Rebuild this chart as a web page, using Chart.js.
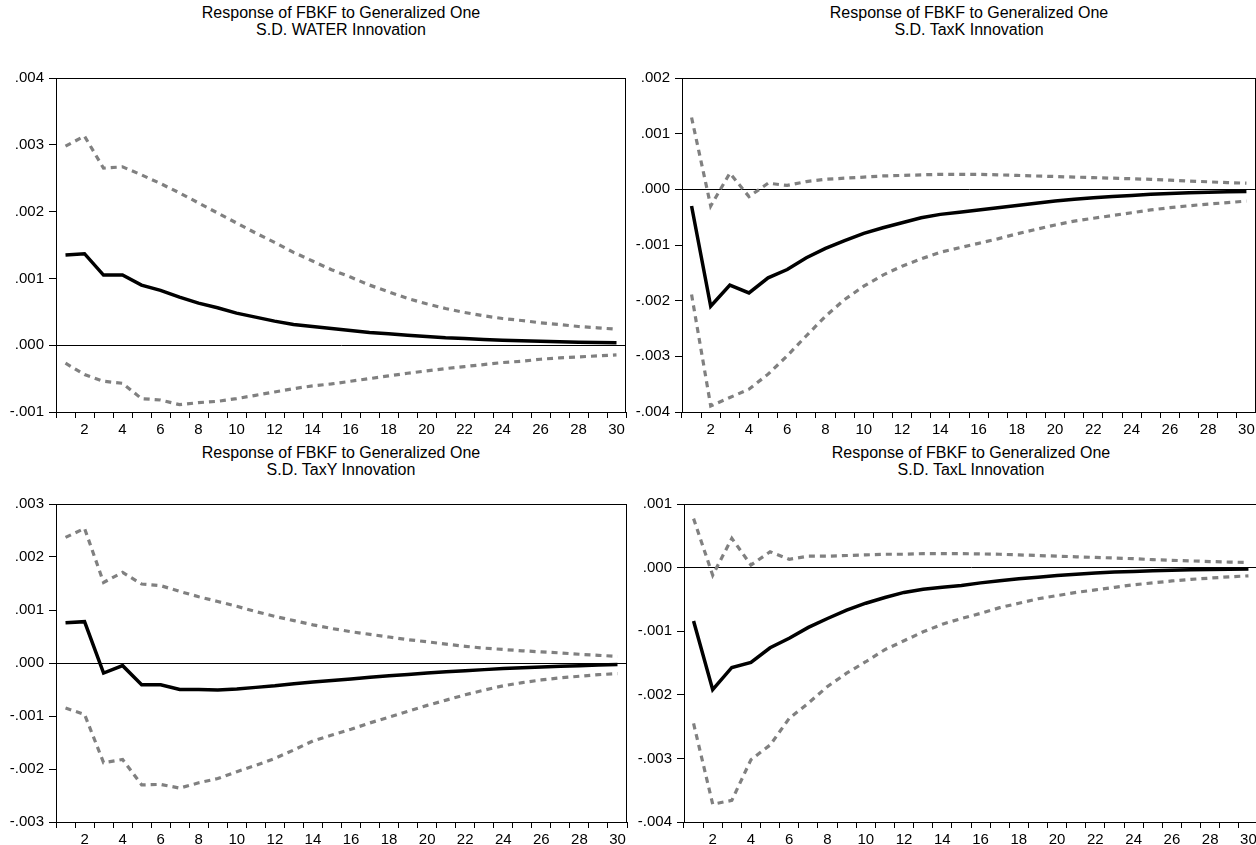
<!DOCTYPE html>
<html>
<head>
<meta charset="utf-8">
<script src="https://cdn.jsdelivr.net/npm/chart.js@4/dist/chart.umd.min.js"></script>
<style>
html,body{margin:0;padding:0;background:#fff;width:1256px;height:845px;overflow:hidden;position:relative;}
canvas{position:absolute;}
.ttl{position:absolute;width:500px;text-align:center;font-family:"Liberation Sans",Arial,sans-serif;font-size:16px;line-height:17px;color:#000;}
</style>
</head>
<body>
<div class="ttl" id="t1" style="left:91px;top:4px;">Response of FBKF to Generalized One<br>S.D. WATER Innovation</div>
<div class="ttl" id="t2" style="left:719px;top:4px;">Response of FBKF to Generalized One<br>S.D. TaxK Innovation</div>
<div class="ttl" id="t3" style="left:91px;top:444px;">Response of FBKF to Generalized One<br>S.D. TaxY Innovation</div>
<div class="ttl" id="t4" style="left:721px;top:444px;">Response of FBKF to Generalized One<br>S.D. TaxL Innovation</div>
<canvas id="c1" width="632" height="378" style="left:0px;top:64px;"></canvas>
<canvas id="c2" width="632" height="378" style="left:630px;top:64px;"></canvas>
<canvas id="c3" width="633" height="362" style="left:0px;top:490px;"></canvas>
<canvas id="c4" width="634" height="362" style="left:630px;top:490px;"></canvas>
<script>
// Periods 1..30
const periods = Array.from({length: 30}, (_, i) => String(i + 1));

// Values in units of 0.001 (scaled below)
const waterMid = [1.35,1.37,1.05,1.05,0.90,0.82,0.72,0.63,0.56,0.48,0.42,0.36,0.31,0.28,0.25,0.22,0.19,0.17,0.15,0.13,0.11,0.10,0.085,0.075,0.065,0.058,0.05,0.045,0.04,0.035];
const waterUp  = [2.98,3.13,2.65,2.67,2.55,2.42,2.28,2.13,1.98,1.83,1.68,1.54,1.39,1.26,1.13,1.02,0.90,0.80,0.70,0.62,0.55,0.49,0.44,0.40,0.37,0.335,0.31,0.28,0.26,0.24];
const waterLo  = [-0.27,-0.44,-0.54,-0.57,-0.80,-0.82,-0.89,-0.86,-0.84,-0.80,-0.75,-0.70,-0.65,-0.61,-0.58,-0.54,-0.50,-0.46,-0.42,-0.385,-0.35,-0.32,-0.29,-0.26,-0.24,-0.21,-0.19,-0.175,-0.16,-0.145];

const taxKMid = [-0.30,-2.10,-1.72,-1.86,-1.59,-1.44,-1.23,-1.06,-0.92,-0.79,-0.69,-0.60,-0.51,-0.45,-0.41,-0.37,-0.33,-0.29,-0.25,-0.21,-0.18,-0.15,-0.13,-0.11,-0.09,-0.075,-0.062,-0.052,-0.045,-0.038];
const taxKUp  = [1.29,-0.30,0.29,-0.13,0.11,0.07,0.14,0.18,0.20,0.22,0.24,0.25,0.26,0.27,0.27,0.27,0.26,0.25,0.24,0.23,0.22,0.21,0.20,0.19,0.18,0.165,0.15,0.135,0.12,0.11];
const taxKLo  = [-1.89,-3.89,-3.74,-3.59,-3.32,-2.99,-2.63,-2.28,-1.98,-1.74,-1.54,-1.38,-1.25,-1.13,-1.05,-0.97,-0.89,-0.80,-0.72,-0.64,-0.57,-0.52,-0.47,-0.42,-0.37,-0.33,-0.295,-0.265,-0.24,-0.21];

const taxYMid = [0.76,0.78,-0.19,-0.05,-0.41,-0.41,-0.50,-0.50,-0.51,-0.49,-0.46,-0.43,-0.39,-0.36,-0.33,-0.30,-0.27,-0.24,-0.215,-0.19,-0.165,-0.145,-0.125,-0.105,-0.09,-0.075,-0.06,-0.05,-0.04,-0.03];
const taxYUp  = [2.37,2.54,1.52,1.71,1.49,1.46,1.35,1.25,1.16,1.07,0.97,0.88,0.80,0.72,0.65,0.59,0.54,0.49,0.44,0.40,0.355,0.315,0.28,0.255,0.23,0.21,0.19,0.165,0.145,0.125];
const taxYLo  = [-0.85,-0.97,-1.88,-1.82,-2.30,-2.29,-2.36,-2.26,-2.18,-2.05,-1.93,-1.80,-1.64,-1.47,-1.36,-1.25,-1.13,-1.02,-0.91,-0.80,-0.70,-0.60,-0.51,-0.43,-0.37,-0.32,-0.28,-0.25,-0.22,-0.20];

const taxLMid = [-0.84,-1.92,-1.57,-1.49,-1.26,-1.11,-0.94,-0.80,-0.67,-0.56,-0.47,-0.39,-0.34,-0.31,-0.28,-0.24,-0.205,-0.175,-0.15,-0.125,-0.105,-0.085,-0.07,-0.06,-0.05,-0.042,-0.035,-0.03,-0.026,-0.022];
const taxLUp  = [0.77,-0.12,0.46,0.04,0.25,0.13,0.18,0.18,0.19,0.20,0.21,0.21,0.22,0.22,0.22,0.215,0.21,0.20,0.19,0.18,0.17,0.16,0.15,0.14,0.125,0.115,0.105,0.095,0.087,0.08];
const taxLLo  = [-2.45,-3.72,-3.66,-3.02,-2.79,-2.37,-2.13,-1.87,-1.66,-1.48,-1.29,-1.15,-1.01,-0.89,-0.80,-0.72,-0.63,-0.56,-0.49,-0.44,-0.39,-0.35,-0.31,-0.27,-0.24,-0.21,-0.185,-0.165,-0.145,-0.13];

// Y axis ranges (in units of 0.001)
const waterRange = [-1, 4];
const taxKRange  = [-4, 2];
const taxYRange  = [-3, 3];
const taxLRange  = [-4, 1];

const SCALE = 0.001;
const FONT = {family: '"Liberation Sans", Arial, sans-serif', size: 15};

function fmt(v) {
  if (Math.abs(v) < 1e-12) return '.000';
  const s = Math.abs(v).toFixed(3).replace(/^0/, '');
  return (v < 0 ? '-' : '') + s;
}

const boxPlugin = {
  id: 'box',
  afterDraw(chart) {
    const a = chart.chartArea, ctx = chart.ctx;
    ctx.save();
    ctx.strokeStyle = '#000';
    ctx.lineWidth = 1;
    ctx.strokeRect(Math.round(a.left) + 0.5, Math.round(a.top) + 0.5, Math.round(a.right - a.left) - 1, Math.round(a.bottom - a.top));
    ctx.restore();
  }
};

function makeChart(id, mid, up, lo, range, yWidth) {
  const s = arr => arr.map(v => v * SCALE);
  return new Chart(document.getElementById(id), {
    type: 'line',
    data: {
      labels: periods,
      datasets: [
        {data: s(up), borderColor: '#808080', borderWidth: 3.2, borderDash: [6, 5], pointRadius: 0, tension: 0, fill: false},
        {data: s(lo), borderColor: '#808080', borderWidth: 3.2, borderDash: [6, 5], pointRadius: 0, tension: 0, fill: false},
        {data: s(mid), borderColor: '#000000', borderWidth: 3.5, pointRadius: 0, tension: 0, fill: false}
      ]
    },
    options: {
      responsive: false,
      animation: false,
      events: [],
      layout: {padding: {top: 14, right: 6, left: 0, bottom: 0}},
      plugins: {legend: {display: false}, tooltip: {enabled: false}, title: {display: false}},
      scales: {
        x: {
          type: 'category',
          offset: true,
          grid: {offset: true, drawOnChartArea: false, drawTicks: true, tickLength: 6, color: '#000', tickColor: '#000', lineWidth: 1},
          border: {display: true, color: '#000', width: 1},
          ticks: {
            autoSkip: false, maxRotation: 0, minRotation: 0, padding: 3, color: '#000', font: FONT,
            callback: function(val, idx) { return (idx + 1) % 2 === 0 ? this.getLabelForValue(val) : ''; }
          },
          afterFit: sc => { sc.height = 30; }
        },
        y: {
          min: range[0] * SCALE,
          max: range[1] * SCALE,
          grid: {
            drawOnChartArea: true, drawTicks: true, tickLength: 7, tickColor: '#000', lineWidth: 1,
            color: c => (c.tick && Math.abs(c.tick.value) < 1e-12) ? '#000' : 'rgba(0,0,0,0)'
          },
          border: {display: true, color: '#000', width: 1},
          ticks: {stepSize: SCALE, padding: 5, color: '#000', font: FONT, callback: v => fmt(v)},
          afterFit: sc => { sc.width = yWidth; }
        }
      }
    },
    plugins: [boxPlugin]
  });
}

makeChart('c1', waterMid, waterUp, waterLo, waterRange, 56);
makeChart('c2', taxKMid, taxKUp, taxKLo, taxKRange, 52);
makeChart('c3', taxYMid, taxYUp, taxYLo, taxYRange, 56);
makeChart('c4', taxLMid, taxLUp, taxLLo, taxLRange, 54);
</script>
</body>
</html>
